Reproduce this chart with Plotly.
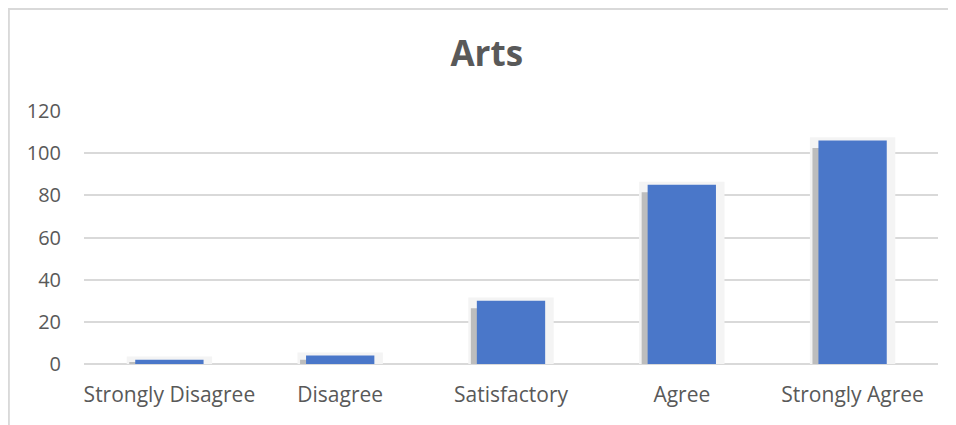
import plotly.graph_objects as go

categories = ["Strongly Disagree", "Disagree", "Satisfactory", "Agree", "Strongly Agree"]
values = [2, 4, 30, 85, 106]

# soft drop shadow sits a little lower and to the left of each bar
shadow = [max(v - 3.5, v * 0.5) for v in values]

fig = go.Figure()

# faint glow behind the bars
fig.add_trace(go.Bar(
    x=categories, y=[v + 1.5 for v in values],
    width=0.5, offset=-0.25,
    marker=dict(color="#f4f4f4", line=dict(width=0)),
    hoverinfo="skip", showlegend=False,
))
fig.add_trace(go.Bar(
    x=categories, y=shadow,
    width=0.4, offset=-0.235,
    marker=dict(color="#bdbdbd", line=dict(width=0)),
    hoverinfo="skip", showlegend=False,
))
fig.add_trace(go.Bar(
    x=categories, y=values,
    width=0.4, offset=-0.2,
    marker=dict(color="#4a77c9", line=dict(width=0)),
    showlegend=False,
))

# page body has an 8px margin, so the figure is sized to fit the window
fig.update_layout(
    barmode="overlay",
    width=948, height=417,
    margin=dict(l=76, r=18, t=103, b=61),
    paper_bgcolor="white", plot_bgcolor="white",
    font=dict(family="Open Sans", size=20, color="#595959"),
    title=dict(text="<b>Arts</b>", x=0.505, xanchor="center", y=0.89, yanchor="middle",
               font=dict(size=35, color="#595959")),
    xaxis=dict(showgrid=False, showline=False, ticks="", ticklabelstandoff=16,
               tickfont=dict(size=21)),
    yaxis=dict(range=[0, 120], dtick=20, showgrid=True, gridcolor="#d9d9d9", gridwidth=1.5,
               zeroline=True, zerolinecolor="#d9d9d9", zerolinewidth=2,
               ticks="", ticklabelstandoff=22),
    shapes=[dict(type="line", xref="paper", yref="paper", x0=-0.089, x1=1.1, y0=1.403, y1=1.403,
                 line=dict(color="#d9d9d9", width=2)),
            dict(type="line", xref="paper", yref="paper", x0=-0.088, x1=-0.088, y0=1.403, y1=-0.3,
                 line=dict(color="#d9d9d9", width=2))],
)

fig.write_html("out.html")
